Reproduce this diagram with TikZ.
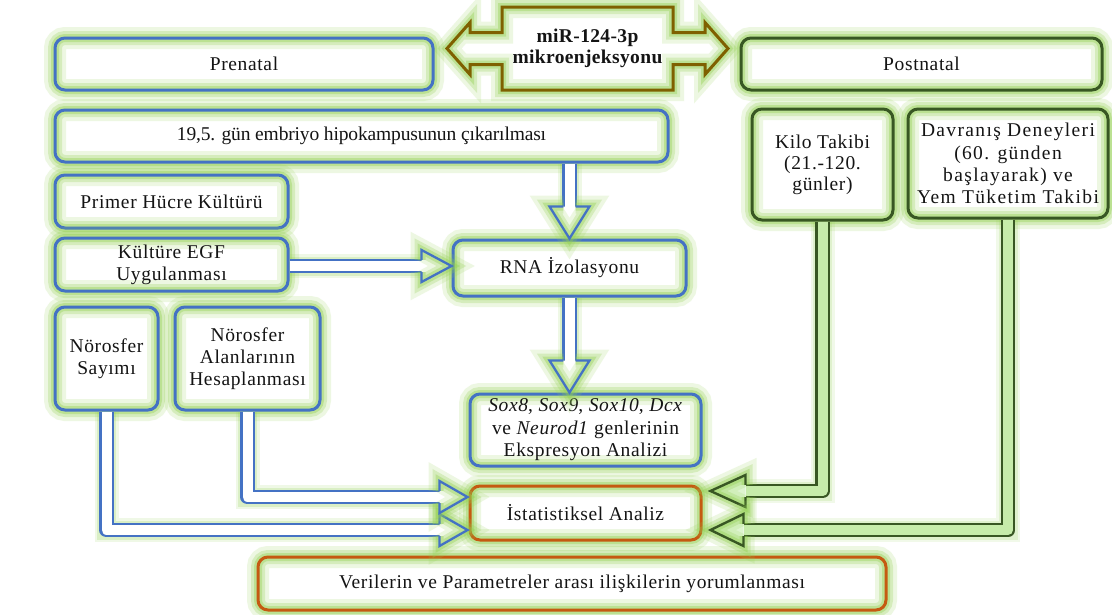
\documentclass[tikz,border=0pt]{standalone}
\usepackage{fontspec}
\setmainfont{Liberation Serif}[LetterSpace=3.3]
\newfontfamily\widefont{Liberation Serif}[LetterSpace=7]
\newfontfamily\tightfont{Liberation Serif}[LetterSpace=-0.8]
\newfontfamily\mirfont{Liberation Serif}[LetterSpace=1.8]
\usetikzlibrary{calc}
\definecolor{bluec}{RGB}{68,114,196}
\definecolor{greenc}{RGB}{56,87,35}
\definecolor{orangec}{RGB}{197,90,17}
\definecolor{brownc}{RGB}{127,96,0}
\definecolor{glowc}{RGB}{146,208,80}
\definecolor{shaftg}{RGB}{198,236,170}
\definecolor{headg}{RGB}{222,245,208}
\definecolor{textc}{RGB}{20,20,20}
\tikzset{
 glow/.style={preaction={draw=glowc,line width=22pt,opacity=0.16},
              preaction={draw=glowc,line width=14pt,opacity=0.26},
              preaction={draw=glowc,line width=8pt,opacity=0.38}},
 box/.style={rounded corners=10pt,line width=3pt,preaction={fill=white},glow,
             align=center,inner sep=0pt,text=textc,font=\fontsize{19.5}{22}\selectfont},
 bbox/.style={box,draw=bluec},
 gbox/.style={box,draw=greenc},
 obox/.style={box,draw=orangec},
 shaftB/.style={line width=10pt,draw=white,line join=round,
   preaction={draw=glowc,line width=24pt,opacity=0.14},
   preaction={draw=glowc,line width=19pt,opacity=0.22},
   preaction={draw=bluec,line width=14.6pt,line join=round}},
 shaftG/.style={line width=10pt,draw=shaftg,line join=round,
   preaction={draw=glowc,line width=24pt,opacity=0.12},
   preaction={draw=glowc,line width=19pt,opacity=0.18},
   preaction={draw=greenc,line width=14.8pt,line join=round}},
 headB/.style={draw=bluec,line width=2.3pt,line join=miter,preaction={fill=white},glow},
 headG/.style={draw=greenc,line width=2.4pt,line join=miter,preaction={fill=headg},glow},
 mirshape/.style={draw=brownc,line width=3pt,line join=miter,preaction={fill=white},glow},
}
\newcommand\ahead[5]{%
 \begin{scope}[shift={(#2)},rotate=#3]
 \path[#1] (-#4,6.2) -- (-#4,#5) -- (0,0) -- (-#4,-#5) -- (-#4,-6.2);
 \end{scope}}
\begin{document}
\begin{tikzpicture}[x=1pt,y=1pt]
\fill[white] (0,0) rectangle (1112,-614);
\useasboundingbox (0,0) rectangle (1112,-614);
% double arrow
\coordinate (mirc) at (587.5,-48.5);
\begin{scope}[shift={(mirc)}]
\path[mirshape] (-140.5,0) -- (-117.5,26) -- (-117.5,16) -- (-85.5,16) -- (-85.5,41.5)
 -- (85.5,41.5) -- (85.5,16) -- (117.5,16) -- (117.5,26) -- (140.5,0)
 -- (117.5,-26) -- (117.5,-16) -- (85.5,-16) -- (85.5,-41.5) -- (-85.5,-41.5)
 -- (-85.5,-16) -- (-117.5,-16) -- (-117.5,-26) -- cycle;
\end{scope}
\node[inner sep=0pt,align=center,font=\mirfont\bfseries\fontsize{19.5}{21.5}\selectfont,text=textc] (mir) at (mirc) {miR-124-3p\\mikroenjeksyonu};
% boxes
\node[bbox,minimum width=378,minimum height=52] (pre) at (244,-64) {Prenatal};
\node[gbox,minimum width=361,minimum height=52] (post) at (921.5,-64) {Postnatal};
\node[bbox,minimum width=613,minimum height=52,font=\tightfont\fontsize{19.5}{22}\selectfont] (emb) at (361.5,-136) {19,5. gün embriyo hipokampusunun çıkarılması};
\node[bbox,minimum width=233,minimum height=53] (prim) at (171.5,-201.5) {Primer Hücre Kültürü};
\node[bbox,minimum width=233,minimum height=53] (egf) at (171.5,-264.5) {Kültüre EGF\\Uygulanması};
\node[bbox,minimum width=233,minimum height=56] (rna) at (569.5,-268) {RNA İzolasyonu};
\node[bbox,minimum width=103,minimum height=103] (say) at (106.5,-358.5) {Nörosfer\\Sayımı};
\node[bbox,minimum width=145,minimum height=103] (alan) at (247.5,-358.5) {Nörosfer\\Alanlarının\\Hesaplanması};
\node[bbox,minimum width=231,minimum height=72,font=\fontsize{19.5}{22.5}\selectfont] (sox) at (585.5,-430) {\textit{Sox8}, \textit{Sox9}, \textit{Sox10}, \textit{Dcx}\\ve \textit{Neurod1} genlerinin\\Ekspresyon Analizi};
\node[obox,minimum width=231,minimum height=54] (stat) at (585.5,-513) {İstatistiksel Analiz};
\node[obox,minimum width=628,minimum height=53] (ver) at (572,-583.5) {Verilerin ve Parametreler arası ilişkilerin yorumlanması};
\node[gbox,minimum width=141,minimum height=111,font=\fontsize{19.5}{21}\selectfont] (kilo) at (822.5,-164.5) {Kilo Takibi\\(21.-120.\\günler)};
\node[gbox,minimum width=200,minimum height=109,font=\widefont\fontsize{19.5}{22.3}\selectfont] (dav) at (1008,-163.5) {Davranış Deneyleri\\(60. günden\\başlayarak) ve\\Yem Tüketim Takibi};
% arrows
\coordinate (t1) at (rna.north);
\draw[shaftB] (t1 |- emb.south) -- ($(t1)+(0,32)$);
\ahead{headB}{t1}{-90}{32}{20}
\coordinate (t2) at ($(rna.west)+(0,2)$);
\draw[shaftB] (egf.east |- t2) -- ($(t2)+(-30,0)$);
\ahead{headB}{t2}{0}{30}{16}
\coordinate (t3) at (rna.south |- sox.north);
\draw[shaftB] (rna.south) -- ($(t3)+(0,32)$);
\ahead{headB}{t3}{-90}{32}{20}
\coordinate (t4) at ($(stat.west)+(-1,-17)$);
\draw[shaftB] (say.south) |- ($(t4)+(-28,0)$);
\ahead{headB}{t4}{0}{28}{16}
\coordinate (t5) at ($(stat.west)+(-1,16)$);
\draw[shaftB] (alan.south) |- ($(t5)+(-28,0)$);
\ahead{headB}{t5}{0}{28}{16}
\coordinate (t6) at ($(stat.east)+(8,22)$);
\draw[shaftG] (kilo.south) |- ($(t6)+(35,0)$);
\ahead{headG}{t6}{180}{35}{16}
\coordinate (t7) at ($(stat.east)+(8,-17)$);
\draw[shaftG] (dav.south) |- ($(t7)+(33,0)$);
\ahead{headG}{t7}{180}{33}{16}
\end{tikzpicture}
\end{document}
